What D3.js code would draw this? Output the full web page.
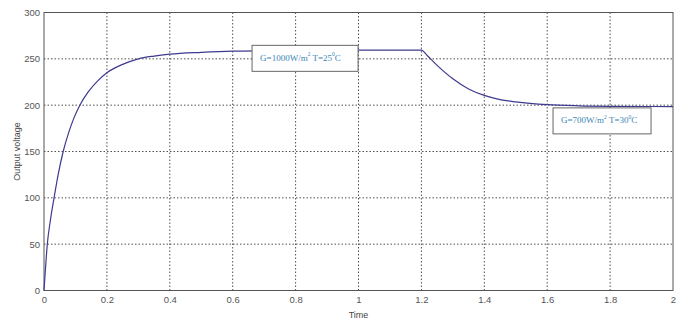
<!DOCTYPE html>
<html>
<head>
<meta charset="utf-8">
<script src="https://cdn.jsdelivr.net/npm/d3@7"></script>
<style>
  body { margin: 0; background: #fff; }
  .tick text { font-family: "Liberation Sans Narrow", "Liberation Sans", Arial, sans-serif; font-size: 9.5px; fill: #555; }
</style>
</head>
<body>
<svg id="chart" width="679" height="322"></svg>
<script>
// time axis values (s) and output voltage
var timeValues = [0, 0.005, 0.0105, 0.02, 0.032, 0.045, 0.061, 0.08, 0.095, 0.114, 0.14, 0.17, 0.2, 0.25, 0.3, 0.35, 0.4, 0.5, 0.6, 0.8, 1.0, 1.2,
                  1.22, 1.25, 1.3, 1.35, 1.4, 1.45, 1.5, 1.6, 1.7, 1.8, 2.0]
var voltage = [0, 25, 50, 75, 100, 125, 150, 172, 186, 200, 214, 226, 235, 244, 250, 253, 255, 257, 258.3, 259, 259.5, 259.5,
               253, 243, 228.5, 217.5, 210.5, 206, 203.5, 200.5, 199.3, 198.8, 198.5]
var xTicks = [0, 0.2, 0.4, 0.6, 0.8, 1, 1.2, 1.4, 1.6, 1.8, 2]
var yTicks = [0, 50, 100, 150, 200, 250, 300]
var notes = [
  { t: 0.687, v: 250, w: 106, label: "G=1000W/m", sup: "2", rest: " T=25", deg: "0", end: "C" },
  { t: 1.644, v: 182.5, w: 98, label: "G=700W/m", sup: "2", rest: " T=30", deg: "0", end: "C" }
]

var svg = d3.select("#chart")
var m = { left: 44, right: 673, top: 12.5, bottom: 290.5 }

var x = d3.scaleLinear().domain([0, 2]).range([m.left, m.right])
var y = d3.scaleLinear().domain([0, 300]).range([m.bottom, m.top])

// grid
var grid = svg.append("g")
grid.selectAll(".gx").data(xTicks.slice(1, -1)).enter().append("line")
  .attr("x1", d => x(d)).attr("x2", d => x(d))
  .attr("y1", m.top).attr("y2", m.bottom)
  .attr("stroke", "#222").attr("stroke-width", 0.8).attr("stroke-dasharray", "1.5,2")
grid.selectAll(".gy").data(yTicks.slice(1, -1)).enter().append("line")
  .attr("x1", m.left).attr("x2", m.right)
  .attr("y1", d => y(d)).attr("y2", d => y(d))
  .attr("stroke", "#222").attr("stroke-width", 0.8).attr("stroke-dasharray", "1.5,2")

// axes
var xAxis = svg.append("g").attr("transform", `translate(0,${m.bottom})`)
  .call(d3.axisBottom(x).tickValues(xTicks).tickSize(0).tickPadding(6).tickFormat(d3.format("~g")))
var yAxis = svg.append("g").attr("transform", `translate(${m.left},0)`)
  .call(d3.axisLeft(y).tickValues(yTicks).tickSize(0).tickPadding(4))
xAxis.select(".domain").remove()
yAxis.select(".domain").remove()

svg.append("rect")
  .attr("x", m.left).attr("y", m.top)
  .attr("width", m.right - m.left).attr("height", m.bottom - m.top)
  .attr("fill", "none").attr("stroke", "#555").attr("stroke-width", 1)

// curve
var line = d3.line()
  .x((d, i) => x(timeValues[i]))
  .y(d => y(d))
  .curve(d3.curveMonotoneX)
svg.append("path")
  .datum(voltage)
  .attr("d", line)
  .attr("fill", "none")
  .attr("stroke", "#3d3a8f")
  .attr("stroke-width", 1.2)

// annotation boxes
notes.forEach(n => {
  var g = svg.append("g").attr("transform", `translate(${x(n.t)},${y(n.v)})`)
  g.append("rect")
    .attr("x", -8).attr("y", -13.5)
    .attr("width", n.w).attr("height", 26)
    .attr("fill", "#fff").attr("stroke", "#666").attr("stroke-width", 1)
  var txt = g.append("text")
    .attr("x", 0).attr("y", 0)
    .attr("text-anchor", "start").attr("dominant-baseline", "middle")
    .attr("font-family", "Liberation Serif, Times New Roman, serif")
    .attr("font-size", 9).attr("fill", "#3b86b5")
  txt.append("tspan").text(n.label)
  txt.append("tspan").attr("font-size", 5.5).attr("dy", -3.5).text(n.sup)
  txt.append("tspan").attr("dy", 3.5).text(n.rest)
  txt.append("tspan").attr("font-size", 5.5).attr("dy", -3.5).text(n.deg)
  txt.append("tspan").attr("dy", 3.5).text(n.end)
})

// labels
svg.append("text")
  .attr("x", x(1)).attr("y", 318)
  .attr("text-anchor", "middle")
  .attr("font-family", "Liberation Sans Narrow, Liberation Sans, Arial, sans-serif")
  .attr("font-size", 9).attr("fill", "#444")
  .text("Time")
svg.append("text")
  .attr("transform", `translate(20,${(m.top + m.bottom) / 2}) rotate(-90)`)
  .attr("text-anchor", "middle")
  .attr("font-family", "Liberation Sans, Arial, sans-serif")
  .attr("font-size", 9).attr("fill", "#444")
  .text("Output voltage")
</script>
</body>
</html>
